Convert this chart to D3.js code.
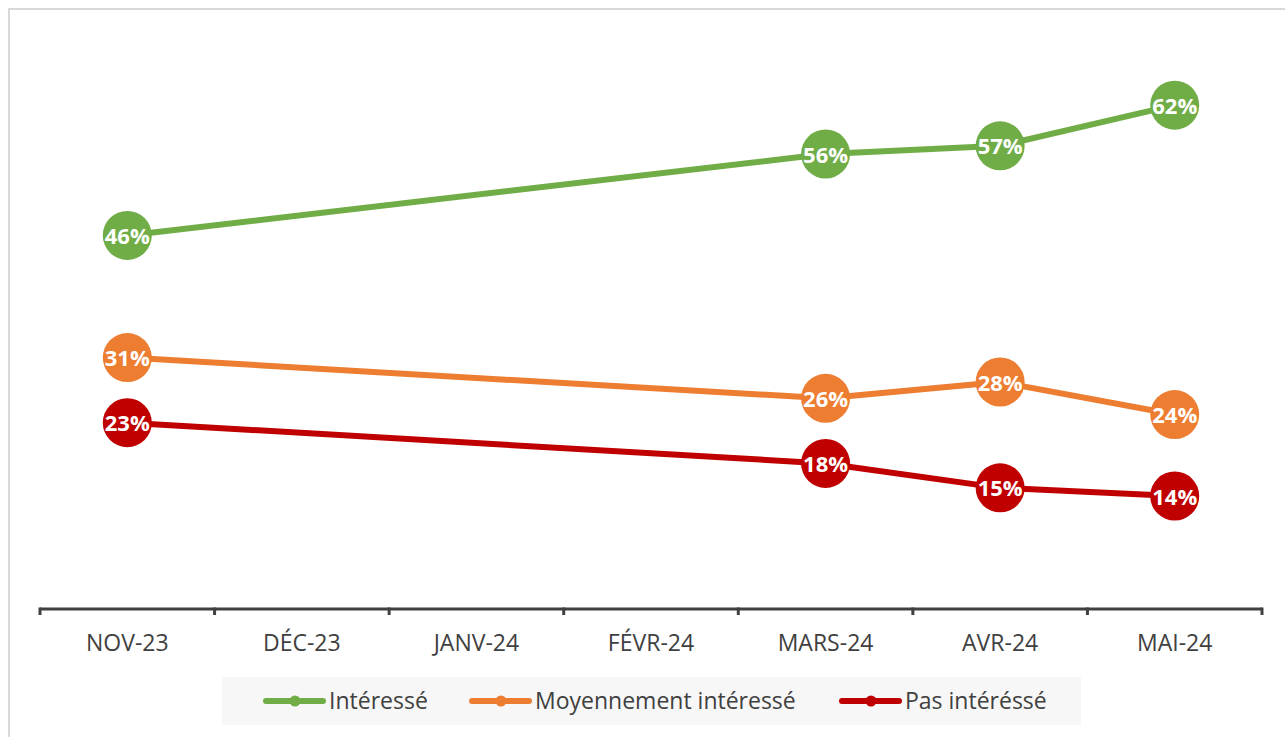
<!DOCTYPE html>
<html lang="fr">
<head>
<meta charset="utf-8">
<script src="https://cdn.jsdelivr.net/npm/d3@7"></script>
<style>
  html, body { margin: 0; padding: 0; background: #ffffff; }
  svg { display: block; font-family: "Open Sans", "Noto Sans", sans-serif; }
</style>
</head>
<body>
<svg id="chart" width="1285" height="737"></svg>
<script>
// Months on the category axis
const months = ["NOV-23", "DÉC-23", "JANV-24", "FÉVR-24", "MARS-24", "AVR-24", "MAI-24"];

// Survey shares per month (null = no survey that month)
const interesse = [0.46, null, null, null, 0.56, 0.57, 0.62];
const moyennement = [0.31, null, null, null, 0.26, 0.28, 0.24];
const pasInteresse = [0.23, null, null, null, 0.18, 0.15, 0.14];

// Series names shown in the legend
const seriesNames = ["Intéressé", "Moyennement intéressé", "Pas intéréssé"];
const seriesColors = ["#70ad47", "#ed7d31", "#c00000"];
const seriesValues = [interesse, moyennement, pasInteresse];

const svg = d3.select("#chart");

// Outer chart frame
svg.append("rect")
  .attr("x", 9).attr("y", 9)
  .attr("width", 1300).attr("height", 760)
  .attr("fill", "#ffffff")
  .attr("stroke", "#d9d9d9")
  .attr("stroke-width", 2);

const x = d3.scaleBand().domain(months).range([40, 1262]).paddingInner(0).paddingOuter(0);
const y = d3.scaleLinear().domain([0, 0.7]).range([610, 40]);

// Category axis: baseline with ticks at the band boundaries
const axisY = 609;
const axisG = svg.append("g");
axisG.append("line")
  .attr("x1", x.range()[0]).attr("x2", x.range()[1])
  .attr("y1", axisY).attr("y2", axisY)
  .attr("stroke", "#404040").attr("stroke-width", 3);
const boundaries = months.map(m => x(m)).concat([x.range()[1]]);
axisG.selectAll("line.tick").data(boundaries).join("line")
  .attr("class", "tick")
  .attr("x1", d => d).attr("x2", d => d)
  .attr("y1", axisY - 1.5).attr("y2", axisY + 6)
  .attr("stroke", "#404040").attr("stroke-width", 3);
axisG.selectAll("text").data(months).join("text")
  .attr("x", d => x(d) + x.bandwidth() / 2)
  .attr("y", 651)
  .attr("text-anchor", "middle")
  .attr("font-size", 23)
  .attr("fill", "#404040")
  .text(d => d);

// Lines joined across the months without data
const cx = i => x(months[i]) + x.bandwidth() / 2;
const line = d3.line()
  .x(d => cx(d.i))
  .y(d => y(d.v));

seriesValues.forEach((vals, s) => {
  const pts = vals.map((v, i) => ({ i, v })).filter(d => d.v !== null);
  const g = svg.append("g");
  g.append("path")
    .datum(pts)
    .attr("d", line)
    .attr("fill", "none")
    .attr("stroke", seriesColors[s])
    .attr("stroke-width", 6)
    .attr("stroke-linejoin", "round");
  g.selectAll("circle").data(pts).join("circle")
    .attr("cx", d => cx(d.i))
    .attr("cy", d => y(d.v))
    .attr("r", 24.5)
    .attr("fill", seriesColors[s]);
  g.selectAll("text").data(pts).join("text")
    .attr("x", d => cx(d.i))
    .attr("y", d => y(d.v) + 8.5)
    .attr("text-anchor", "middle")
    .attr("font-size", 22)
    .attr("font-weight", 700)
    .attr("fill", "#ffffff")
    .text(d => d3.format(".0%")(d.v));
});

// Legend
const legend = svg.append("g");
legend.append("rect")
  .attr("x", 222).attr("y", 677)
  .attr("width", 859).attr("height", 48)
  .attr("fill", "#f7f7f7");
const legendX = [263, 469, 839];
seriesNames.forEach((name, s) => {
  const lx = legendX[s];
  const ly = 701;
  legend.append("line")
    .attr("x1", lx + 3).attr("x2", lx + 60)
    .attr("y1", ly).attr("y2", ly)
    .attr("stroke", seriesColors[s])
    .attr("stroke-width", 6)
    .attr("stroke-linecap", "round");
  legend.append("circle")
    .attr("cx", lx + 32).attr("cy", ly).attr("r", 5.5)
    .attr("fill", seriesColors[s]);
  legend.append("text")
    .attr("x", lx + 66).attr("y", ly + 8)
    .attr("font-size", 23)
    .attr("fill", "#404040")
    .text(name);
});
</script>
</body>
</html>
